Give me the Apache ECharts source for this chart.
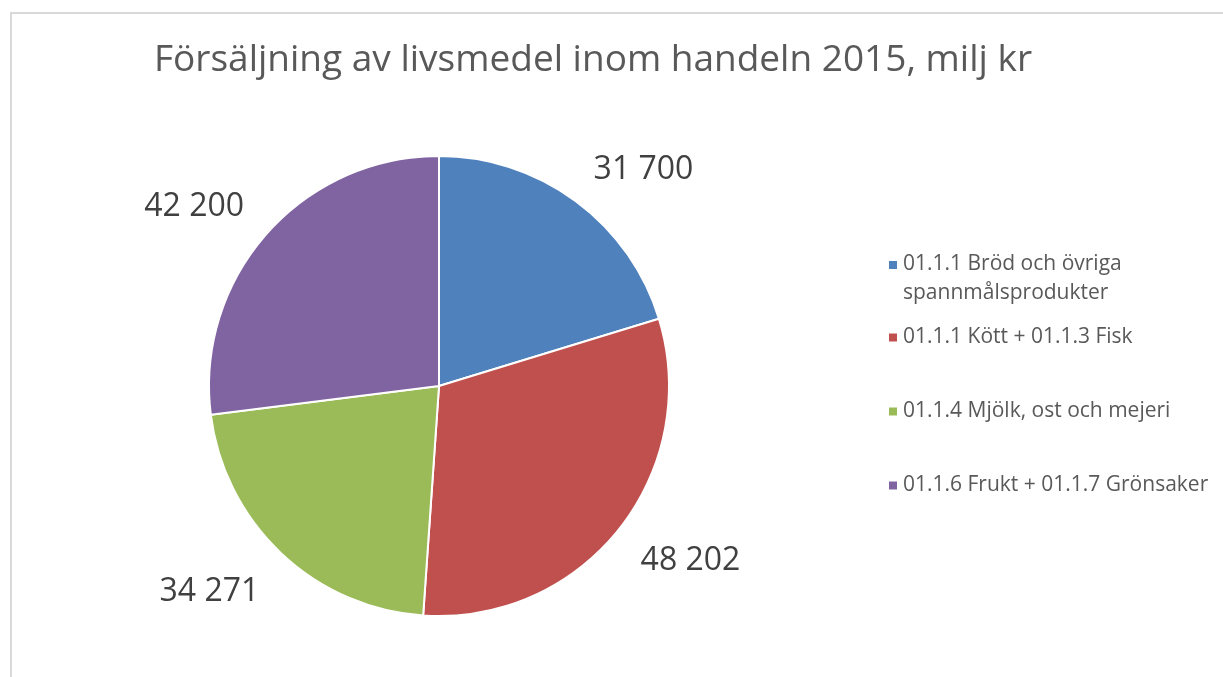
<!DOCTYPE html>
<html>
<head>
<meta charset="utf-8">
<script src="https://cdn.jsdelivr.net/npm/echarts@6/dist/echarts.min.js"></script>
<style>
  html, body { margin: 0; padding: 0; background: #fff; overflow: hidden; }
  #frame {
    position: absolute; left: 10px; top: 12px; width: 1240px; height: 700px;
    border: 2px solid #d9d9d9; box-sizing: border-box;
  }
  #chart { position: absolute; left: 0; top: 0; width: 1223px; height: 677px; }
</style>
</head>
<body>
<div id="frame"></div>
<div id="chart"></div>
<script>
const categories = [
  '01.1.1 Bröd och övriga\nspannmålsprodukter',
  '01.1.1 Kött + 01.1.3 Fisk',
  '01.1.4 Mjölk, ost och mejeri',
  '01.1.6 Frukt + 01.1.7 Grönsaker'
];
const values = [31700, 48202, 34271, 42200];
const colors = ['#4F81BD', '#C0504D', '#9BBB59', '#8064A2'];

// layout (inte data): legendposter och etikettförskjutningar
const legendTops = [244, 318, 392, 466];
const labelOffsets = [[-15, -7], [-17, 13], [14, 17], [15, -7]];

const chart = echarts.init(document.getElementById('chart'));

// tusentalsavgränsare med mellanslag
const fmt = v => String(v).replace(/\B(?=(\d{3})+(?!\d))/g, ' ');

const legendBase = {
  orient: 'vertical',
  left: 882,
  itemWidth: 10,
  itemHeight: 10,
  itemGap: 8,
  icon: 'rect',
  textStyle: { fontFamily: 'Open Sans', fontSize: 21, color: '#595959', lineHeight: 29 }
};

const option = {
  color: colors,
  animation: false,
  title: {
    text: 'Försäljning av livsmedel inom handeln 2015, milj kr',
    left: 588,
    textAlign: 'center',
    top: 37,
    textStyle: { fontFamily: 'Open Sans', fontSize: 37, fontWeight: 'normal', color: '#595959' }
  },
  legend: categories.map((c, i) => Object.assign({}, legendBase, {
    top: legendTops[i],
    data: [c],
    // första posten har två rader: symbolen ska sitta vid första raden
    icon: i === 0 ? 'path://M0,10h10v10h-10zM0,0M0,58' : 'rect',
    itemHeight: i === 0 ? 58 : 10
  })),
  series: [
    {
      type: 'pie',
      center: [439, 386],
      radius: 230,
      startAngle: 90,
      clockwise: true,
      data: categories.map((c, i) => ({
        name: c,
        value: values[i],
        label: { offset: labelOffsets[i] }
      })),
      itemStyle: { borderColor: '#fff', borderWidth: 2 },
      label: {
        show: true,
        position: 'outside',
        formatter: p => fmt(p.value),
        fontFamily: 'Open Sans',
        fontSize: 32,
        color: '#404040'
      },
      labelLine: { show: false, length: 30, length2: 10 }
    }
  ]
};

chart.setOption(option);
</script>
</body>
</html>
